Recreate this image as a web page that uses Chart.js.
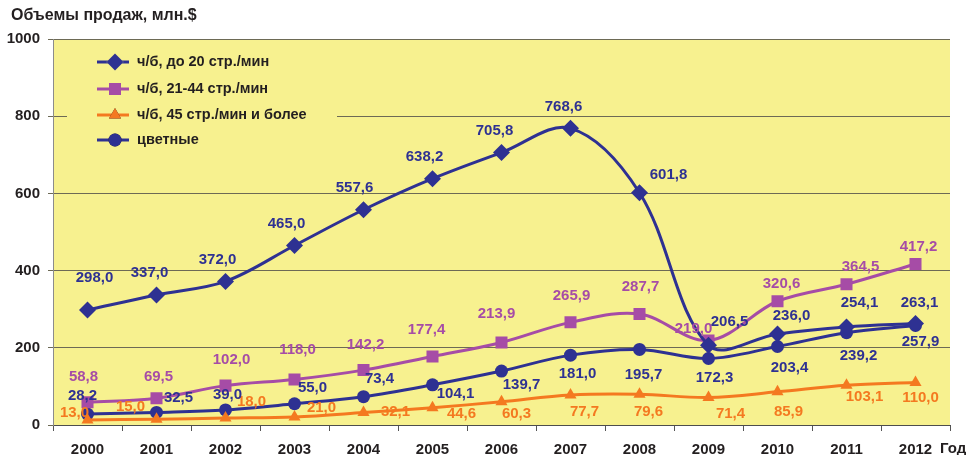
<!DOCTYPE html>
<html lang="ru">
<head>
    <meta charset="UTF-8">
    <title>Объемы продаж</title>
    <script src="https://cdn.jsdelivr.net/npm/chart.js@4.4.0/dist/chart.umd.min.js"></script>
    <style>
        html, body { margin: 0; padding: 0; background: #ffffff; }
        #wrap { width: 969px; height: 455px; }
    </style>
</head>
<body>
<div id="wrap"><canvas id="salesChart" width="969" height="455"></canvas></div>

<script>
    // data
    const years = ['2000', '2001', '2002', '2003', '2004', '2005', '2006', '2007', '2008', '2009', '2010', '2011', '2012'];
    const bwUpTo20 = [298.0, 337.0, 372.0, 465.0, 557.6, 638.2, 705.8, 768.6, 601.8, 206.5, 236.0, 254.1, 263.1];
    const bw21to44 = [58.8, 69.5, 102.0, 118.0, 142.2, 177.4, 213.9, 265.9, 287.7, 219.0, 320.6, 364.5, 417.2];
    const bw45plus = [13.0, 15.0, 18.0, 21.0, 32.1, 44.6, 60.3, 77.7, 79.6, 71.4, 85.9, 103.1, 110.0];
    const colour = [28.2, 32.5, 39.0, 55.0, 73.4, 104.1, 139.7, 181.0, 195.7, 172.3, 203.4, 239.2, 257.9];
    const seriesNames = ['ч/б, до 20 стр./мин', 'ч/б, 21-44 стр./мин', 'ч/б, 45 стр./мин и более', 'цветные'];
    const yTicks = [0, 200, 400, 600, 800, 1000];

    const NAVY = '#2e3192';
    const PURPLE = '#a64ca6';
    const ORANGE = '#f47920';
    const FONT = '"Liberation Sans", Arial, sans-serif';

    // where each value label sits relative to its point (px)
    const labelShift = [
        [[7,-32],[-7,-22],[-8,-22],[-8,-22],[-9,-22],[-8,-22],[-7,-22],[-7,-21],[29,-18],[21,-23],[14,-18],[13,-24],[4,-21]],
        [[-4,-25],[2,-21],[6,-26],[3,-30],[2,-25],[-6,-27],[-5,-29],[1,-27],[1,-27],[-15,-12],[4,-17],[14,-17],[3,-17]],
        [[-13,-7],[-26,-12],[26,-16],[27,-9],[32,-1],[29,6],[15,12],[14,17],[9,18],[22,16],[11,20],[18,12],[5,15]],
        [[-5,-18],[22,-15],[2,-15],[18,-16],[16,-18],[23,9],[20,14],[7,19],[4,25],[6,19],[12,21],[12,23],[5,16]]
    ];

    const fmt = v => v.toFixed(1).replace('.', ',');

    // yellow plot area
    const plotBackground = {
        id: 'plotBackground',
        beforeDraw(chart) {
            const { ctx, chartArea: a } = chart;
            ctx.save();
            ctx.fillStyle = '#f7f18f';
            ctx.fillRect(a.left, a.top, a.right - a.left, a.bottom - a.top);
            ctx.restore();
        }
    };

    // value labels next to the points
    const valueLabels = {
        id: 'valueLabels',
        afterDatasetsDraw(chart) {
            const ctx = chart.ctx;
            ctx.save();
            ctx.font = 'bold 15px ' + FONT;
            ctx.textAlign = 'center';
            ctx.textBaseline = 'middle';
            chart.data.datasets.forEach((ds, di) => {
                const meta = chart.getDatasetMeta(di);
                ctx.fillStyle = ds.borderColor;
                meta.data.forEach((pt, i) => {
                    const s = labelShift[di][i];
                    ctx.fillText(fmt(ds.data[i]), pt.x + s[0], pt.y + s[1]);
                });
            });
            ctx.restore();
        }
    };

    // title, axis word and the line+marker legend
    const extras = {
        id: 'extras',
        afterDraw(chart) {
            const ctx = chart.ctx;
            ctx.save();
            ctx.fillStyle = '#231f20';
            ctx.textBaseline = 'middle';
            ctx.textAlign = 'left';
            ctx.font = 'bold 16px ' + FONT;
            ctx.fillText('Объемы продаж, млн.$', 11, 16);
            ctx.font = 'bold 15px ' + FONT;
            ctx.fillText('Год', 940, 449);

            // legend box
            ctx.fillStyle = '#f7f18f';
            ctx.fillRect(67, 46, 270, 106);
            const rows = [62, 89, 115, 140];
            chart.data.datasets.forEach((ds, di) => {
                const y = rows[di];
                ctx.strokeStyle = ds.borderColor;
                ctx.lineWidth = 3;
                ctx.beginPath();
                ctx.moveTo(97, y);
                ctx.lineTo(129, y);
                ctx.stroke();
                Chart.helpers.drawPoint(ctx, {
                    pointStyle: ds.pointStyle,
                    radius: ds.pointRadius,
                    rotation: ds.pointRotation || 0,
                    borderWidth: 0
                }, 115, y);
                ctx.fillStyle = ds.pointBackgroundColor;
                ctx.fill();
                ctx.fillStyle = '#231f20';
                ctx.font = 'bold 14.5px ' + FONT;
                ctx.fillText(seriesNames[di], 137, y);
            });
            ctx.restore();
        }
    };

    function line(label, data, color, style, radius) {
        return {
            label: label,
            data: data,
            borderColor: color,
            backgroundColor: color,
            pointBackgroundColor: color,
            pointBorderColor: color,
            borderWidth: 3,
            pointStyle: style,
            pointRadius: radius,
            pointBorderWidth: 0,
            tension: 0.35
        };
    }

    new Chart(document.getElementById('salesChart').getContext('2d'), {
        type: 'line',
        data: {
            labels: years,
            datasets: [
                line(seriesNames[0], bwUpTo20, NAVY, 'rectRot', 8.5),
                line(seriesNames[1], bw21to44, PURPLE, 'rect', 8.5),
                line(seriesNames[2], bw45plus, ORANGE, 'triangle', 7),
                line(seriesNames[3], colour, NAVY, 'circle', 6.5)
            ]
        },
        options: {
            responsive: false,
            animation: false,
            layout: { padding: { top: 39, right: 19, left: 0, bottom: 0 } },
            plugins: {
                legend: { display: false },
                tooltip: { enabled: false }
            },
            scales: {
                x: {
                    offset: true,
                    grid: { offset: true, drawOnChartArea: false, tickLength: 6, color: '#555555' },
                    border: { color: '#4d4d4d', width: 1 },
                    ticks: { color: '#231f20', font: { family: FONT, size: 15, weight: 'bold' }, padding: 10, maxRotation: 0 },
                    afterFit(scale) { scale.height = 30; }
                },
                y: {
                    min: 0,
                    max: 1000,
                    afterBuildTicks(scale) { scale.ticks = yTicks.map(v => ({ value: v })); },
                    grid: { color: '#6d6a55', lineWidth: 1, tickLength: 5 },
                    border: { color: '#8c8c8c', width: 1 },
                    ticks: {
                        color: '#231f20',
                        font: { family: FONT, size: 15, weight: 'bold' },
                        padding: 8,
                        callback: v => String(v)
                    },
                    afterFit(scale) { scale.width = 53; }
                }
            }
        },
        plugins: [plotBackground, valueLabels, extras]
    });
</script>
</body>
</html>
